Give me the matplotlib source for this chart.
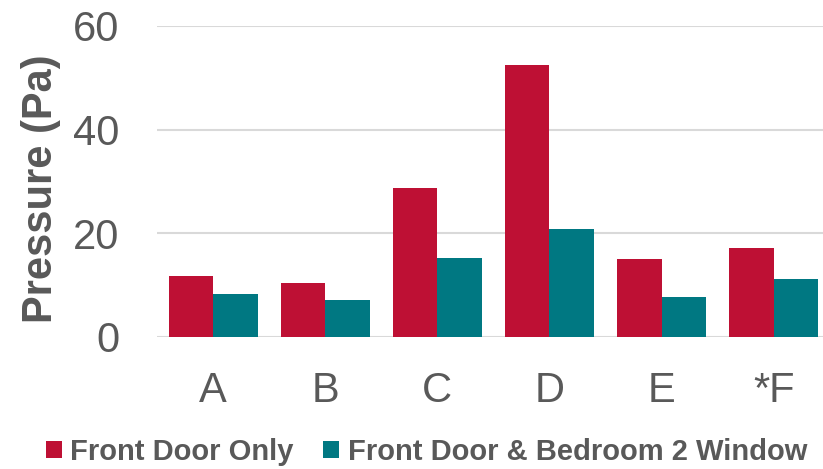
import numpy as np
import matplotlib.pyplot as plt

plt.rcParams['font.family'] = ['Liberation Sans', 'DejaVu Sans']

categories = ['A', 'B', 'C', 'D', 'E', '*F']
front_door_only = [11.8, 10.3, 28.7, 52.5, 15.0, 17.1]
front_door_bedroom = [8.2, 7.0, 15.2, 20.8, 7.6, 11.2]
series_names = ['Front Door Only', 'Front Door & Bedroom 2 Window']
yticks = [0, 20, 40, 60]

red = '#BE1034'
teal = '#007882'
grey = '#595959'

fig = plt.figure(figsize=(8.23, 4.69), dpi=100)
ax = fig.add_axes([0.1908, 0.282, 0.8092, 0.6626])

x = np.arange(len(categories))
w = 0.397
ax.bar(x - w / 2, front_door_only, w, color=red, label=series_names[0], zorder=3)
ax.bar(x + w / 2, front_door_bedroom, w, color=teal, label=series_names[1], zorder=3)

ax.set_xlim(-0.5, 5.44)
ax.set_ylim(0, 60)
ax.set_yticks(yticks)
ax.set_xticks(x)
ax.set_xticklabels(categories)
ax.yaxis.grid(True, color='#D9D9D9', linewidth=1.5, zorder=0)
for s in ax.spines.values():
    s.set_visible(False)
ax.tick_params(axis='both', length=0, labelsize=30, labelcolor=grey)
ax.tick_params(axis='y', pad=27)
ax.tick_params(axis='x', pad=25)

fig.text(0.05, 0.597, 'Pressure (Pa)', rotation=90, ha='center', va='center',
         fontsize=30, fontweight='bold', color=grey)

fig.legend(loc='center', bbox_to_anchor=(0.518, 0.037), ncol=2, frameon=False,
           prop={'size': 21, 'weight': 'bold'}, labelcolor=grey,
           handlelength=0.55, handleheight=0.55, handletextpad=0.3, columnspacing=1.0)

fig.savefig('out.png', dpi=100)
